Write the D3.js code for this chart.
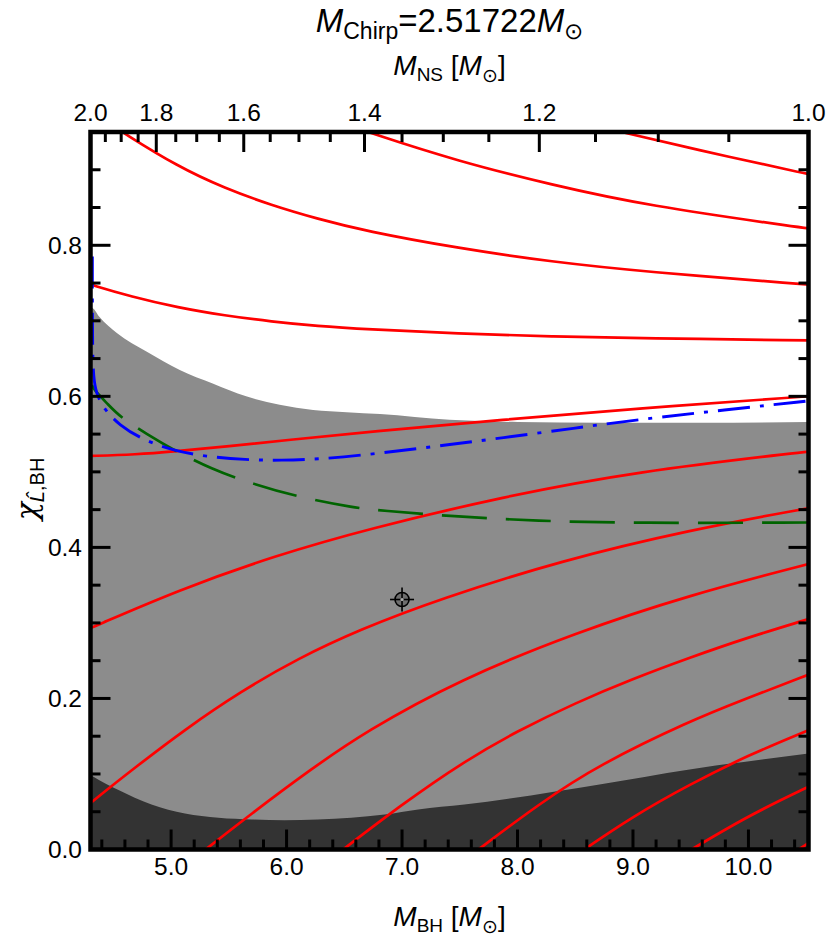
<!DOCTYPE html>
<html><head><meta charset="utf-8">
<script src="https://cdn.jsdelivr.net/npm/d3@7"></script>
<style>
body{margin:0;background:#fff;}
text{font-family:"Liberation Sans",Arial,Helvetica,sans-serif;fill:#000;}
</style></head>
<body><svg id="c" width="830" height="942"></svg>
<script>
// ---------------- data ----------------
const chirpMass = 2.51722;
const xTicksMajor = [5, 6, 7, 8, 9, 10];
const xTickLabels = ["5.0", "6.0", "7.0", "8.0", "9.0", "10.0"];
const yTicksMajor = [0, 0.2, 0.4, 0.6, 0.8];
const yTickLabels = ["0.0", "0.2", "0.4", "0.6", "0.8"];
const nsTicksMajor = [2.0, 1.8, 1.6, 1.4, 1.2, 1.0];
const nsTickLabels = ["2.0", "1.8", "1.6", "1.4", "1.2", "1.0"];

// light gray region: upper boundary [M_BH, chi]
const lightUpper = [[4.30,0.718],[4.32,0.717],[4.38,0.705],[4.53,0.684],[4.79,0.659],[5.075,0.635],[5.36,0.617],[5.65,0.600],[5.94,0.589],[6.23,0.582],[6.52,0.579],[6.81,0.5765],[7.41,0.569],[8.0,0.566],[8.74,0.565],[9.6,0.565],[10.52,0.566]];
// dark gray region: upper boundary
const darkUpper = [[4.30,0.099],[4.32,0.097],[4.54,0.079],[4.83,0.0595],[5.12,0.0476],[5.41,0.042],[5.70,0.0397],[5.98,0.0388],[6.27,0.0397],[6.56,0.042],[6.85,0.0463],[7.14,0.053],[7.54,0.0595],[8.71,0.086],[9.49,0.106],[10.52,0.127]];

// red contour lines
const redA = [[4.50,0.958],[4.575,0.95],[5.06,0.904],[5.465,0.8755],[5.87,0.853],[6.27,0.835],[6.68,0.819],[7.49,0.796],[8.30,0.778],[9.10,0.765],[10.52,0.748],[10.6,0.747]];
const redB = [[4.25,0.751],[4.30,0.748],[4.656,0.732],[5.06,0.7175],[5.465,0.707],[5.87,0.699],[6.27,0.693],[6.68,0.689],[7.49,0.683],[8.30,0.679],[9.10,0.677],[10.52,0.674],[10.6,0.674]];
const redC = [[6.58,0.957],[6.70,0.95],[7.49,0.911],[8.30,0.880],[9.10,0.853],[10.52,0.822],[10.6,0.821]];
const redCc = [[8.80,0.954],[8.90,0.95],[9.51,0.928],[10.52,0.894],[10.6,0.892]];
const redD = [[4.25,0.521],[4.30,0.521],[4.7,0.523],[5.02,0.527],[5.5,0.534],[6.0,0.542],[6.72,0.553],[7.87,0.569],[9.03,0.584],[10.52,0.600],[10.6,0.601]];
const redE = [[4.25,0.290],[4.30,0.293],[5.07,0.344],[5.9,0.389],[6.72,0.425],[7.87,0.467],[9.03,0.5005],[10.52,0.527],[10.6,0.528]];
const redF = [[4.27,0.057],[4.32,0.064],[4.7,0.11],[5.12,0.159],[5.6,0.209],[6.1,0.253],[6.63,0.291],[7.33,0.332],[8.39,0.383],[9.49,0.423],[10.52,0.452],[10.6,0.454]];
const redG = [[5.24,-0.007],[5.7,0.048],[6.2,0.105],[6.68,0.156],[7.5,0.225],[8.5,0.287],[9.49,0.337],[10.52,0.378],[10.6,0.381]];
const redH = [[6.43,-0.007],[7.0,0.06],[7.54,0.117],[8.0,0.157],[8.5,0.194],[9.0,0.226],[9.49,0.254],[10.0,0.281],[10.52,0.305],[10.6,0.309]];
const redI = [[7.60,-0.007],[8.2,0.062],[8.71,0.1125],[9.49,0.170],[9.95,0.198],[10.52,0.2315],[10.6,0.236]];
const redJ = [[8.51,-0.007],[9.0,0.044],[9.49,0.086],[10.0,0.125],[10.52,0.158],[10.6,0.163]];
const redK = [[9.43,-0.007],[10.0,0.045],[10.52,0.083],[10.6,0.089]];
const redL = [[10.37,-0.007],[10.52,0.009],[10.6,0.016]];
const redLines = [redA, redB, redC, redCc, redD, redE, redF, redG, redH, redI, redJ, redK, redL];

// green dashed curve
const greenCurve = [[4.315,0.615],[4.33,0.609],[4.45,0.59],[4.555,0.573],[4.79,0.550],[5.02,0.529],[5.36,0.503],[5.65,0.487],[6.085,0.467],[6.605,0.452],[6.805,0.449],[7.44,0.441],[8.16,0.435],[9.03,0.432],[10.52,0.433],[10.6,0.433]];
// blue dash-dot curve
const blueCurve = [[4.318,0.785],[4.318,0.72],[4.32,0.66],[4.328,0.625],[4.35,0.604],[4.42,0.583],[4.55,0.562],[4.75,0.543],[5.0,0.529],[5.3,0.520],[5.65,0.516],[5.95,0.515],[6.3,0.517],[6.72,0.523],[7.3,0.534],[7.87,0.545],[8.5,0.558],[9.03,0.569],[9.8,0.582],[10.52,0.594],[10.6,0.595]];
// injected point
const marker = [7.0, 0.331];

// ---------------- helpers ----------------
function chirp(m1, m2){ return Math.pow(m1*m2, 0.6) / Math.pow(m1+m2, 0.2); }
function mbhFromNs(mns){
  let lo = mns, hi = 40;
  for (let i=0;i<80;i++){ const mid=(lo+hi)/2; if (chirp(mid,mns) < chirpMass) lo = mid; else hi = mid; }
  return (lo+hi)/2;
}

const L = 90.5, R = 808.5, T = 132, B = 849.5;
const x = d3.scaleLinear().domain([mbhFromNs(2.0), mbhFromNs(1.0)]).range([L, R]);
const y = d3.scaleLinear().domain([0, 0.95]).range([B, T]);

const svg = d3.select("#c");
svg.append("defs").append("clipPath").attr("id","clip")
  .append("rect").attr("x",L).attr("y",T).attr("width",R-L).attr("height",B-T);

const plot = svg.append("g").attr("clip-path","url(#clip)");
plot.append("rect").attr("x",L).attr("y",T).attr("width",R-L).attr("height",B-T).attr("fill","#fff");

const area = d3.area().x(d=>x(d[0])).y0(y(0)).y1(d=>y(d[1])).curve(d3.curveMonotoneX);
plot.append("path").datum(lightUpper).attr("d",area).attr("fill","#8c8c8c");
plot.append("path").datum(darkUpper).attr("d",area).attr("fill","#333333");

const line = d3.line().x(d=>x(d[0])).y(d=>y(d[1])).curve(d3.curveBasis);

plot.selectAll("path.red").data(redLines).enter().append("path").attr("class","red")
  .attr("d",line).attr("fill","none").attr("stroke","#ff0000").attr("stroke-width",2.7);

plot.append("path").datum(greenCurve).attr("d",line).attr("fill","none")
  .attr("stroke","#006400").attr("stroke-width",2.7).attr("stroke-dasharray","45,19");
plot.append("path").datum(blueCurve).attr("d",line).attr("fill","none")
  .attr("stroke","#0000ff").attr("stroke-width",2.9).attr("stroke-dasharray","32,10,4,10");

// marker
const mx = x(marker[0]), my = y(marker[1]);
const mg = plot.append("g");
mg.append("circle").attr("cx",mx).attr("cy",my).attr("r",7).attr("fill","#6e6e6e").attr("stroke","#000").attr("stroke-width",1.6);
mg.append("line").attr("x1",mx-12).attr("x2",mx+12).attr("y1",my).attr("y2",my).attr("stroke","#000").attr("stroke-width",1.6);
mg.append("line").attr("x1",mx).attr("x2",mx).attr("y1",my-12).attr("y2",my+12).attr("stroke","#000").attr("stroke-width",1.6);
mg.append("circle").attr("cx",mx).attr("cy",my).attr("r",1.6).attr("fill","#b0b0b0");

// ticks
const tg = svg.append("g").attr("stroke","#000").attr("stroke-width",3);
const MAJ = 20, MIN = 10;
const xMinor = d3.range(4.4, 10.55, 0.2).map(v=>+v.toFixed(2)).filter(v=>Math.abs(v-Math.round(v))>1e-6 && v>x.domain()[0] && v<x.domain()[1]);
xMinor.forEach(v=>{ tg.append("line").attr("x1",x(v)).attr("x2",x(v)).attr("y1",B).attr("y2",B-MIN); });
xTicksMajor.forEach(v=>{ tg.append("line").attr("x1",x(v)).attr("x2",x(v)).attr("y1",B).attr("y2",B-MAJ); });
const nsMinor = d3.range(1.05, 2.0, 0.05).map(v=>+v.toFixed(2)).filter(v=>Math.abs(v*5-Math.round(v*5))>1e-6);
nsMinor.forEach(v=>{ const px=x(mbhFromNs(v)); tg.append("line").attr("x1",px).attr("x2",px).attr("y1",T).attr("y2",T+MIN); });
nsTicksMajor.forEach(v=>{ const px=x(mbhFromNs(v)); tg.append("line").attr("x1",px).attr("x2",px).attr("y1",T).attr("y2",T+MAJ); });
const yMinor = d3.range(0.05, 0.95, 0.05).map(v=>+v.toFixed(2)).filter(v=>Math.abs(v*5-Math.round(v*5))>1e-6);
yMinor.forEach(v=>{
  tg.append("line").attr("x1",L).attr("x2",L+MIN).attr("y1",y(v)).attr("y2",y(v));
  tg.append("line").attr("x1",R).attr("x2",R-MIN).attr("y1",y(v)).attr("y2",y(v));
});
yTicksMajor.forEach(v=>{
  tg.append("line").attr("x1",L).attr("x2",L+MAJ).attr("y1",y(v)).attr("y2",y(v));
  tg.append("line").attr("x1",R).attr("x2",R-MAJ).attr("y1",y(v)).attr("y2",y(v));
});

// frame
svg.append("rect").attr("x",L).attr("y",T).attr("width",R-L).attr("height",B-T)
  .attr("fill","none").attr("stroke","#000").attr("stroke-width",4.5);

// tick labels
const FS = 24.5;
xTicksMajor.forEach((v,i)=>{
  svg.append("text").attr("x",x(v)).attr("y",875).attr("text-anchor","middle").attr("font-size",FS).text(xTickLabels[i]);
});
nsTicksMajor.forEach((v,i)=>{
  svg.append("text").attr("x",x(mbhFromNs(v))).attr("y",121).attr("text-anchor","middle").attr("font-size",FS).text(nsTickLabels[i]);
});
yTicksMajor.forEach((v,i)=>{
  svg.append("text").attr("x",82).attr("y",y(v)+8.7).attr("text-anchor","end").attr("font-size",FS).text(yTickLabels[i]);
});

const cx = (L+R)/2;
// title
const t1 = svg.append("text").attr("x",cx).attr("y",32).attr("text-anchor","middle").attr("font-size",33);
t1.append("tspan").attr("font-style","italic").text("M");
t1.append("tspan").attr("font-size",23).attr("dy",7).text("Chirp");
t1.append("tspan").attr("dy",-7).text("=2.51722");
t1.append("tspan").attr("font-style","italic").text("M");
t1.append("tspan").attr("font-size",23).attr("dy",7).text("\u2299");

// top axis label
const t2 = svg.append("text").attr("x",cx).attr("y",75).attr("text-anchor","middle").attr("font-size",28);
t2.append("tspan").attr("font-style","italic").text("M");
t2.append("tspan").attr("font-size",19).attr("dy",6).text("NS");
t2.append("tspan").attr("dy",-6).text(" [");
t2.append("tspan").attr("font-style","italic").text("M");
t2.append("tspan").attr("font-size",19).attr("dy",7).text("\u2299");
t2.append("tspan").attr("dy",-7).text("]");

// bottom axis label
const t3 = svg.append("text").attr("x",cx).attr("y",926).attr("text-anchor","middle").attr("font-size",28);
t3.append("tspan").attr("font-style","italic").text("M");
t3.append("tspan").attr("font-size",19).attr("dy",6).text("BH");
t3.append("tspan").attr("dy",-6).text(" [");
t3.append("tspan").attr("font-style","italic").text("M");
t3.append("tspan").attr("font-size",19).attr("dy",7).text("\u2299");
t3.append("tspan").attr("dy",-7).text("]");

// y axis label
const t4 = svg.append("text").attr("transform","translate(37,489) rotate(-90)").attr("text-anchor","middle").attr("font-size",30);
t4.append("tspan").attr("font-style","italic").attr("font-family","DejaVu Serif, serif").text("\u03c7");
t4.append("tspan").attr("font-size",20).attr("dy",7).attr("font-style","italic").text("L\u0302");
t4.append("tspan").attr("font-size",20).text(",BH");
</script>
</body></html>
